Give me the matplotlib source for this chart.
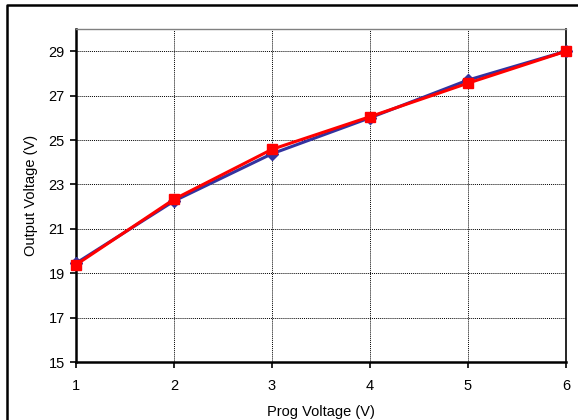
import matplotlib
matplotlib.use("Agg")
import matplotlib.pyplot as plt
from matplotlib.lines import Line2D

plt.rcParams["font.family"] = ["Liberation Sans", "DejaVu Sans"]

# Programming voltage sweep and measured outputs
prog_voltage = [1, 2, 3, 4, 5, 6]
output_a = [19.45, 22.25, 24.38, 26.0, 27.7, 29.0]
output_b = [19.38, 22.33, 24.58, 26.05, 27.56, 29.0]

y_ticks = [15, 17, 19, 21, 23, 25, 27, 29]
x_ticks = [1, 2, 3, 4, 5, 6]

fig = plt.figure(figsize=(5.78, 4.2), dpi=100)
ax = fig.add_axes([76 / 578, 1 - 362 / 420, 490 / 578, 333 / 420])

ax.plot(prog_voltage, output_a, color="#3333a0", lw=2.2, marker="D",
        ms=6, clip_on=False, zorder=3)
ax.plot(prog_voltage, output_b, color="#ff0000", lw=2.2, marker="s",
        ms=7, clip_on=False, zorder=4)

ax.set_xlim(1, 6)
ax.set_ylim(15, 30)
ax.set_xticks(x_ticks)
ax.set_yticks(y_ticks)

ax.grid(True, color="black", linestyle=(0, (1, 1)), linewidth=0.7)
ax.set_axisbelow(True)

for side in ["left", "bottom"]:
    ax.spines[side].set_linewidth(1.8)
    ax.spines[side].set_color("black")
ax.spines["top"].set_color("#808080")
ax.spines["top"].set_linewidth(1.0)
ax.spines["right"].set_color("black")
ax.spines["right"].set_linewidth(1.2)

ax.tick_params(direction="out", length=4, width=1.2, labelsize=10.5,
               colors="black", pad=4)
ax.tick_params(axis="x", pad=8)

ax.set_xlabel("Prog Voltage (V)", fontsize=10.5, labelpad=9)
ax.set_ylabel("Output Voltage (V)", fontsize=10.5, labelpad=8)

# Chart frame: only the left and top edges lie inside the figure
fx, fy = 7 / 578, 1 - 5 / 420
fig.add_artist(Line2D([fx, fx, 1.0], [0.0, fy, fy], transform=fig.transFigure,
                      color="black", linewidth=1.8))

fig.savefig("out.png", dpi=100)
